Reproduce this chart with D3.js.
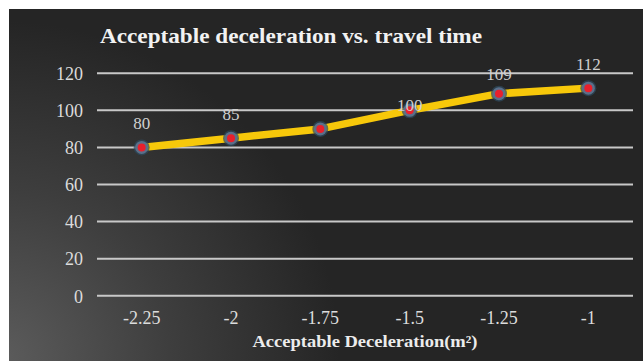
<!DOCTYPE html>
<html><head><meta charset="utf-8">
<script src="https://cdn.jsdelivr.net/npm/d3@7"></script>
<style>html,body{margin:0;padding:0;background:#fff;}svg{display:block;}
svg text{font-family:"Liberation Serif","Times New Roman",serif;}</style>
</head><body><div id="chart"></div>
<script>
const categories = ["-2.25", "-2", "-1.75", "-1.5", "-1.25", "-1"];
const travelTime = [80, 85, 90, 100, 109, 112];
const dataLabels = ["80", "85", "", "100", "109", "112"];
const yTicks = [0, 20, 40, 60, 80, 100, 120];
const labelDy = [-24, -24, -24, -5, -20, -24];

const SERIF = '"Liberation Serif","Times New Roman",serif';
const W = 643, H = 361;
const svg = d3.select("#chart").append("svg").attr("width", W).attr("height", H);
const defs = svg.append("defs");
const rg = defs.append("radialGradient").attr("id", "bg")
  .attr("gradientUnits", "userSpaceOnUse").attr("cx", 0).attr("cy", 361).attr("r", 340);
rg.append("stop").attr("offset", 0).attr("stop-color", "#5c5c5c");
rg.append("stop").attr("offset", 0.5).attr("stop-color", "#3e3e3e");
rg.append("stop").attr("offset", 1).attr("stop-color", "#252525");
svg.append("rect").attr("x", 9).attr("y", 9).attr("width", W - 9).attr("height", H - 9).attr("fill", "url(#bg)");

const plot = {left: 97, right: 633, top: 73.3, bottom: 295.7};
const x = d3.scaleBand().domain(categories).range([plot.left, plot.right]);
const y = d3.scaleLinear().domain([0, 120]).range([plot.bottom, plot.top]);

// gridlines
svg.append("g").selectAll("line").data(yTicks).join("line")
  .attr("x1", plot.left).attr("x2", plot.right)
  .attr("y1", d => y(d)).attr("y2", d => y(d))
  .attr("stroke", "#c8c8c8").attr("stroke-width", 2);

// y axis labels
const yAxis = d3.axisLeft(y).tickValues(yTicks).tickSize(0).tickPadding(0);
const gy = svg.append("g").attr("transform", `translate(${plot.left - 14},0)`).call(yAxis)
  .attr("font-family", null).attr("font-size", null);
gy.select(".domain").remove();
gy.selectAll("text").attr("fill", "#dcdcdc").style("font-family", SERIF)
  .style("font-size", "18px").attr("dy", "0.35em");

// x axis labels
const xAxis = d3.axisBottom(x).tickSize(0).tickPadding(0);
const gx = svg.append("g").attr("transform", `translate(0,${plot.bottom + 28})`).call(xAxis)
  .attr("font-family", null).attr("font-size", null);
gx.select(".domain").remove();
gx.selectAll("text").attr("fill", "#dcdcdc").style("font-family", SERIF)
  .style("font-size", "18px").attr("dy", 0);

// title
svg.append("text").attr("x", 100).attr("y", 43)
  .style("font-family", SERIF).attr("font-weight", "bold")
  .style("font-size", "22px").attr("fill", "#f2f2f2")
  .attr("textLength", 382).attr("lengthAdjust", "spacingAndGlyphs")
  .text("Acceptable  deceleration vs. travel time");

// x axis title
svg.append("text").attr("x", (plot.left + plot.right) / 2).attr("y", 347)
  .attr("text-anchor", "middle")
  .style("font-family", SERIF).attr("font-weight", "bold")
  .style("font-size", "16px").attr("fill", "#ececec")
  .attr("textLength", 225).attr("lengthAdjust", "spacingAndGlyphs")
  .text("Acceptable Deceleration(m²)");

const pts = categories.map((c, i) => ({c, v: travelTime[i], l: dataLabels[i], dy: labelDy[i]}));
const cx = d => x(d.c) + x.bandwidth() / 2;

// line
svg.append("path").datum(pts)
  .attr("d", d3.line().x(cx).y(d => y(d.v)))
  .attr("fill", "none").attr("stroke", "#f7c80a").attr("stroke-width", 7.5)
  .attr("stroke-linejoin", "round");

// markers
const mk = svg.append("g").selectAll("g").data(pts).join("g");
mk.append("circle").attr("cx", cx).attr("cy", d => y(d.v)).attr("r", 8)
  .attr("fill", "#2e4a5e").attr("opacity", 0.7);
mk.append("circle").attr("cx", cx).attr("cy", d => y(d.v)).attr("r", 6.5)
  .attr("fill", "#5a6f8a");
mk.append("circle").attr("cx", cx).attr("cy", d => y(d.v)).attr("r", 4)
  .attr("fill", "#e8202c");

// data labels
svg.append("g").selectAll("text").data(pts).join("text")
  .attr("x", cx).attr("y", d => y(d.v) + d.dy)
  .attr("text-anchor", "middle").attr("dy", "0.35em")
  .style("font-family", SERIF).style("font-size", "17px")
  .attr("fill", "#d0d0d0")
  .text(d => d.l);
</script></body></html>
